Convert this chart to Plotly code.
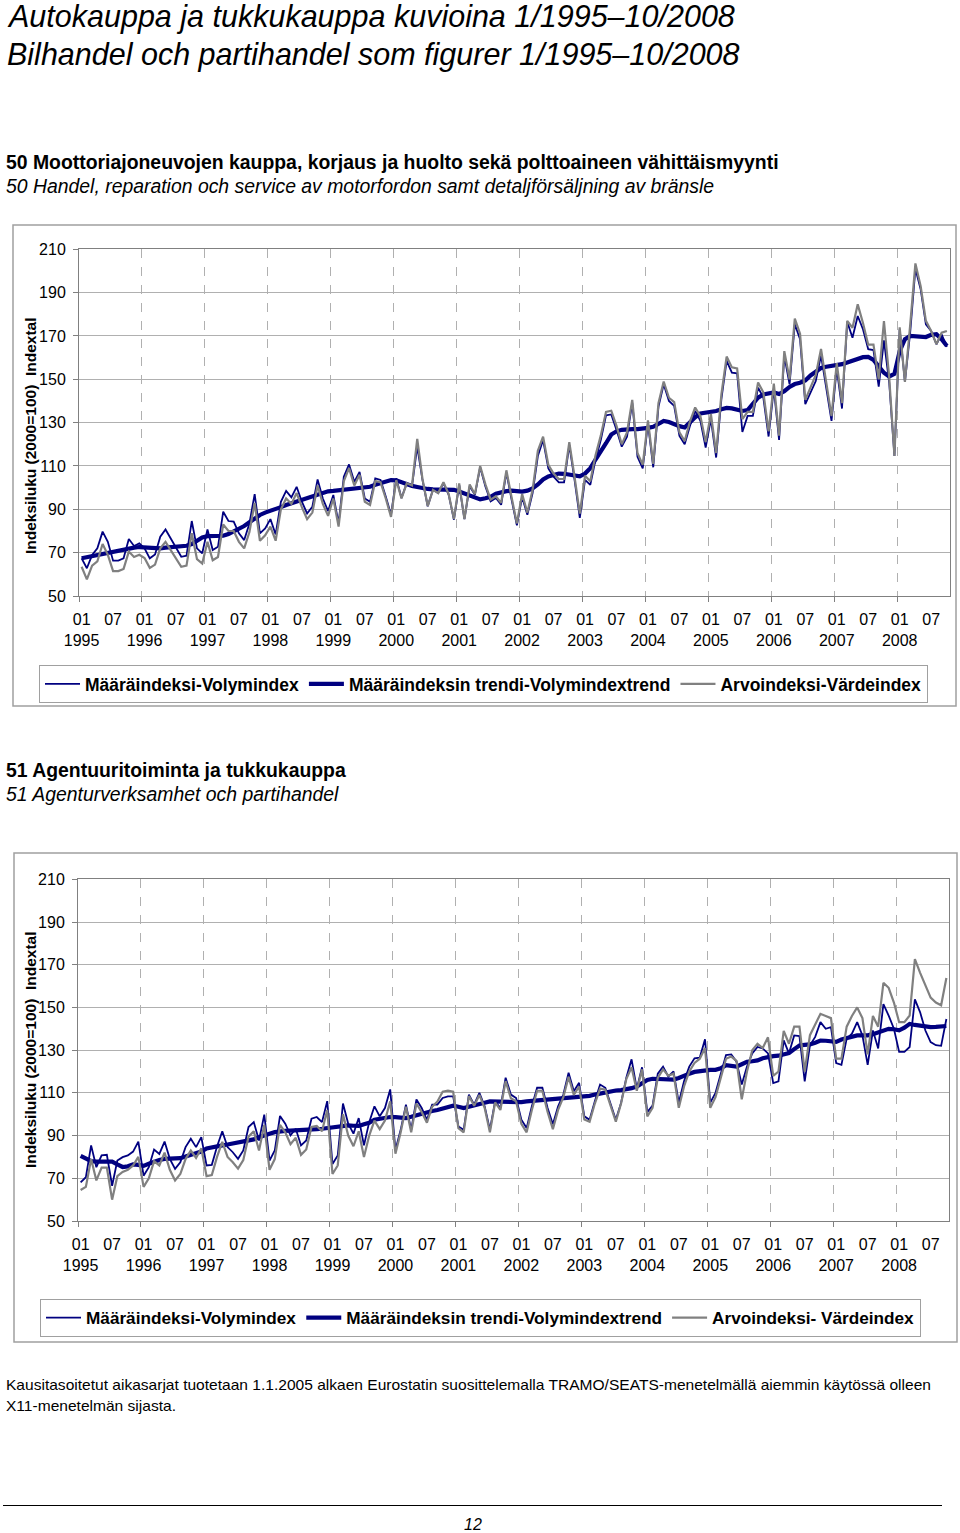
import plotly.graph_objects as go

# ---------------- DATA ----------------
years = list(range(1995, 2009))
months_count = 166  # 1/1995 .. 10/2008

# Panel 50: volume index (monthly)
vol50 = [67.4, 62.8, 68.9, 72.0, 79.7, 75.0, 66.3, 66.3, 67.4, 76.3, 73.1, 74.3,
         72.0, 67.4, 69.2, 77.4, 80.7, 76.6, 72.0, 68.1, 68.6, 84.6, 72.0, 69.7,
         80.7, 71.2, 72.7, 88.9, 84.6, 84.3, 78.9, 75.8, 83.5, 97.0, 78.9, 81.2,
         85.5, 78.4, 93.5, 98.5, 95.5, 100.4, 93.5, 88.1, 91.2, 103.8, 95.0, 89.2,
         96.6, 83.5, 105.0, 110.7, 102.7, 107.3, 95.0, 93.5, 104.3, 103.6, 95.9, 87.5,
         104.3, 95.2, 102.1, 100.6, 119.0, 103.6, 91.4, 99.0, 97.5, 102.1, 96.7, 85.2,
         101.3, 85.5, 100.6, 96.7, 109.4, 100.6, 93.7, 95.2, 92.1, 106.9, 94.4, 82.6,
         95.6, 87.5, 97.5, 114.6, 122.0, 108.9, 105.1, 102.4, 102.4, 119.6, 103.6, 86.0,
         103.6, 101.3, 112.8, 122.0, 133.4, 133.8, 126.6, 118.9, 123.5, 139.1, 114.3, 108.9,
         129.6, 109.4, 137.3, 147.7, 140.0, 137.7, 123.9, 120.0, 128.5, 135.4, 130.8, 118.5,
         131.6, 113.9, 140.8, 158.5, 153.1, 152.8, 125.7, 133.1, 133.1, 146.2, 141.6, 123.6,
         145.7, 122.0, 160.8, 147.7, 175.4, 168.5, 138.5, 143.9, 149.2, 161.1, 145.4, 130.8,
         154.9, 136.5, 176.5, 169.2, 179.2, 173.1, 163.9, 163.5, 146.6, 168.0, 148.5, 114.6,
         173.1, 148.8, 171.5, 201.0, 191.5, 175.4, 172.3, 166.2, 170.8, 165.0]

# Panel 50: volume index trend
trend50 = [67.4, 67.9, 68.4, 69.0, 69.6, 70.2, 70.6, 71.0, 71.4, 71.8, 72.3, 72.6,
           72.4, 72.1, 72.0, 72.0, 72.3, 72.6, 72.8, 73.0, 73.2, 74.0, 75.5, 77.0,
           77.6, 77.6, 77.5, 77.8, 78.6, 79.8, 81.0, 82.3, 84.0, 86.0, 87.4, 88.5,
           89.2, 90.0, 91.0, 92.0, 92.8, 93.4, 94.2, 95.0, 95.8, 96.8, 97.8, 98.3,
           98.5, 98.7, 99.0, 99.2, 99.4, 99.7, 100.0, 100.4, 101.3, 102.0, 102.8, 103.5,
           103.4, 102.4, 101.5, 100.8, 100.3, 99.7, 99.4, 99.2, 99.1, 99.0, 99.0, 99.0,
           98.2, 97.3, 96.2, 95.0, 94.6, 95.1, 95.8, 97.2, 98.0, 98.4, 98.6, 98.4,
           98.2, 98.6, 99.6, 101.5, 103.8, 105.2, 106.0, 106.5, 106.4, 105.9, 105.6, 105.2,
           106.5, 109.0, 113.0, 116.5, 120.5, 124.5, 126.0, 126.7, 127.0, 127.0, 127.0, 127.2,
           127.6, 128.1, 129.5, 130.8, 130.3, 129.2, 128.4, 127.8, 130.5, 132.5, 134.2, 134.6,
           134.6, 135.4, 136.2, 136.8, 136.6, 135.8, 135.4, 135.8, 139.0, 141.5, 143.0, 143.6,
           143.9, 143.2, 144.5, 146.5, 147.8, 148.4, 149.5, 151.8, 153.8, 155.2, 155.8, 156.2,
           156.5, 157.0, 157.8, 158.5, 159.4, 160.2, 160.3, 159.0, 156.0, 153.0, 151.3, 152.5,
           163.0, 168.5, 170.0, 169.8, 169.7, 169.5, 170.5, 170.8, 168.5, 165.4]

# Panel 50: value index
val50 = [63.5, 57.7, 64.0, 66.0, 74.0, 69.0, 61.5, 61.5, 62.5, 70.5, 68.0, 69.0,
         67.5, 63.0, 64.5, 72.0, 75.0, 71.0, 67.0, 63.5, 64.0, 79.0, 67.0, 65.0,
         75.0, 66.5, 68.0, 83.0, 80.0, 80.0, 75.0, 72.0, 79.5, 93.0, 75.5, 78.0,
         82.0, 75.5, 90.0, 95.0, 92.5, 97.5, 91.0, 85.5, 88.5, 101.0, 92.5, 87.0,
         95.0, 82.0, 103.0, 109.0, 101.0, 106.0, 93.5, 92.0, 103.0, 102.5, 95.0, 86.5,
         103.5, 95.0, 102.0, 101.0, 122.5, 104.0, 91.5, 99.0, 97.5, 102.5, 97.0, 85.5,
         102.0, 85.5, 101.5, 97.0, 110.0, 101.5, 94.5, 96.0, 93.0, 108.0, 95.5, 83.5,
         97.0, 88.5, 99.0, 117.0, 123.5, 110.5, 106.5, 104.0, 104.0, 121.0, 105.0, 88.0,
         105.5, 103.0, 115.0, 124.0, 135.0, 135.5, 128.5, 120.0, 125.5, 140.5, 116.0, 110.5,
         131.0, 111.0, 139.0, 149.0, 141.5, 139.5, 125.5, 121.5, 130.5, 137.0, 133.0, 121.0,
         134.0, 116.0, 143.0, 160.5, 155.5, 155.0, 131.6, 135.0, 135.0, 148.5, 144.0, 126.0,
         148.0, 124.0, 163.0, 150.0, 178.0, 171.0, 140.5, 146.0, 152.0, 164.0, 148.0, 133.0,
         157.5, 139.0, 177.0, 173.8, 184.6, 176.0, 166.0, 166.0, 150.0, 176.9, 151.0, 114.6,
         174.0, 148.8, 175.0, 203.5, 193.0, 177.0, 172.3, 166.2, 171.5, 172.3]

# Panel 51: volume index
vol51 = [68.1, 70.5, 85.4, 75.2, 80.7, 81.0, 66.5, 78.3, 79.9, 80.7, 82.5, 87.2,
         71.2, 75.2, 83.5, 81.4, 87.2, 79.1, 74.4, 77.5, 84.6, 88.5, 84.6, 89.3,
         76.0, 76.3, 84.9, 92.0, 84.6, 82.2, 79.1, 83.0, 94.0, 96.3, 87.7, 99.8,
         78.3, 83.0, 99.2, 95.6, 90.1, 93.2, 85.4, 87.7, 97.9, 98.7, 96.3, 106.1,
         76.7, 80.7, 105.0, 95.6, 90.9, 98.2, 85.4, 96.3, 103.7, 99.0, 102.9, 111.6,
         83.2, 92.7, 104.5, 92.7, 106.9, 102.9, 97.4, 104.5, 104.5, 107.6, 108.4, 108.4,
         94.3, 92.7, 109.2, 104.5, 110.0, 103.7, 92.7, 106.1, 102.9, 117.1, 109.2, 107.6,
         97.4, 93.5, 103.7, 112.4, 112.4, 102.9, 95.3, 103.7, 109.2, 119.4, 110.8, 114.7,
         99.0, 97.4, 106.1, 113.9, 112.4, 105.3, 97.4, 105.3, 117.1, 125.7, 112.0, 122.0,
         101.0, 104.0, 119.0, 122.3, 117.7, 120.0, 105.4, 115.4, 122.3, 126.2, 126.5, 135.1,
         105.4, 110.0, 118.5, 127.7, 128.0, 124.6, 113.9, 122.3, 128.5, 131.5, 130.8, 128.5,
         114.6, 115.4, 134.6, 128.5, 136.9, 136.6, 115.4, 132.3, 136.2, 143.1, 140.0, 140.8,
         123.9, 123.1, 135.4, 137.7, 143.1, 136.9, 123.1, 139.2, 130.8, 151.5, 146.2, 140.0,
         129.2, 129.2, 131.5, 153.8, 147.7, 139.2, 133.8, 132.3, 132.0, 144.6]

# Panel 51: volume index trend
trend51 = [80.5, 79.0, 78.0, 77.8, 77.8, 77.8, 77.8, 76.5, 75.3, 75.6, 76.5, 76.3,
           75.8, 76.8, 77.8, 78.6, 79.1, 79.3, 79.4, 79.4, 80.2, 81.0, 81.4, 82.5,
           84.0, 84.6, 85.0, 85.4, 85.8, 86.2, 86.6, 87.2, 87.6, 88.2, 89.2, 90.2,
           90.9, 91.6, 92.0, 92.2, 92.3, 92.4, 92.4, 92.4, 92.6, 93.0, 93.2, 93.5,
           93.8, 94.1, 94.5, 94.8, 94.6, 94.5, 95.3, 96.0, 97.4, 97.9, 98.4, 98.7,
           98.6, 98.4, 98.2, 98.8, 99.6, 100.4, 101.0, 101.5, 102.0, 102.5, 103.3, 104.0,
           103.5, 102.9, 103.5, 104.3, 104.8, 105.4, 106.0, 105.9, 105.7, 105.6, 105.6, 105.6,
           105.7, 106.0, 106.2, 106.3, 106.5, 106.7, 107.0, 107.2, 107.4, 107.5, 107.8, 108.0,
           108.2, 108.6, 109.2, 109.8, 110.4, 110.9, 111.1, 111.3, 111.6, 112.2, 113.0, 114.5,
           116.0, 116.6, 116.5, 116.2, 116.2, 116.2, 117.0, 118.2, 119.0, 119.8, 120.3, 120.7,
           120.8, 120.8, 121.5, 123.0, 122.6, 122.3, 123.4, 124.5, 124.8, 125.2, 126.2, 126.9,
           127.2, 127.4, 128.0, 128.6, 130.5, 132.2, 132.5, 132.7, 133.5, 134.5, 134.4, 134.0,
           133.9, 135.0, 135.8, 136.5, 136.9, 136.9, 136.9, 137.5, 138.2, 139.0, 140.0, 139.8,
           139.3, 140.5, 142.3, 141.8, 141.3, 141.0, 140.8, 140.9, 141.2, 141.3]

# Panel 51: value index
val51 = [64.5, 66.0, 79.0, 69.0, 75.0, 75.0, 60.0, 71.0, 73.0, 74.0, 76.0, 80.0,
         66.0, 70.0, 78.0, 76.0, 82.0, 74.0, 69.0, 72.0, 79.0, 83.0, 79.5, 84.0,
         71.0, 71.5, 80.0, 87.0, 80.0, 77.5, 74.5, 78.5, 89.5, 92.0, 83.0, 95.0,
         74.0, 79.0, 95.0, 91.5, 86.0, 89.0, 81.0, 83.5, 94.0, 94.5, 92.0, 102.0,
         72.0, 76.0, 100.0, 90.0, 85.0, 92.0, 80.0, 90.0, 97.0, 93.0, 97.0, 106.0,
         81.5, 91.5, 103.5, 91.5, 105.0, 101.0, 96.0, 103.5, 106.0, 110.5, 111.0, 110.5,
         93.5, 91.5, 108.5, 104.0, 109.0, 103.0, 91.5, 105.5, 102.0, 115.5, 107.5, 106.0,
         95.5, 91.5, 102.0, 111.0, 111.0, 101.0, 93.0, 102.0, 108.0, 117.5, 109.0, 113.0,
         97.5, 96.5, 105.0, 112.0, 111.5, 104.5, 96.5, 105.0, 116.5, 122.0, 111.0, 121.0,
         99.0, 103.0, 117.0, 121.0, 118.0, 119.0, 103.0, 113.0, 120.0, 124.0, 126.0, 131.0,
         103.0, 108.0, 117.0, 126.0, 127.0, 125.0, 107.0, 120.0, 130.0, 133.0, 131.0, 136.0,
         118.0, 120.0, 139.0, 133.0, 141.0, 141.0, 120.0, 137.0, 142.0, 147.0, 146.0, 145.0,
         126.0, 126.0, 141.0, 146.0, 150.0, 145.0, 128.0, 146.0, 141.0, 161.5, 159.2, 152.3,
         143.1, 143.1, 146.2, 172.6, 166.2, 160.0, 154.6, 152.3, 151.0, 163.8]

# Tick labels (every 6 months)
tick_idx = list(range(0, months_count, 6))
tick_txt = []
for k in tick_idx:
    if k % 12 == 0:
        tick_txt.append("01<br>%d" % years[k // 12])
    else:
        tick_txt.append("07")

names50 = ["Määräindeksi-Volymindex", "Määräindeksin trendi-Volymindextrend", "Arvoindeksi-Värdeindex"]
names51 = ["Määräindeksi-Volymindex", "Määräindeksin trendi-Volymindextrend", "Arvoindeksi- Värdeindex"]

# ---------------- STYLE / LAYOUT ----------------
W, H = 960, 1533
def fx(px):
    return px / W
def fy(py):
    return 1 - py / H

NAVY = "#000080"
GRAY = "#808080"
GRID = "#b0b0b0"
FONT = "Liberation Sans, Arial, sans-serif"

x = list(range(months_count))

fig = go.Figure()

def add_panel(vol, trend, val, names, xa, ya, leg):
    fig.add_trace(go.Scatter(x=x, y=vol, mode="lines", name=names[0],
                             line=dict(color=NAVY, width=1.8), xaxis=xa, yaxis=ya, legend=leg))
    fig.add_trace(go.Scatter(x=x, y=trend, mode="lines", name=names[1],
                             line=dict(color=NAVY, width=4.2), xaxis=xa, yaxis=ya, legend=leg))
    fig.add_trace(go.Scatter(x=x, y=val, mode="lines", name=names[2],
                             line=dict(color=GRAY, width=2.2), xaxis=xa, yaxis=ya, legend=leg))

add_panel(vol50, trend50, val50, names50, "x", "y", "legend")
add_panel(vol51, trend51, val51, names51, "x2", "y2", "legend2")

def xaxis_cfg(x0, x1, anchor):
    return dict(domain=[fx(x0), fx(x1)], range=[-0.5, months_count - 0.5], anchor=anchor,
                tickmode="array", tickvals=tick_idx, ticktext=tick_txt,
                showgrid=False, zeroline=False, ticks="", ticklabelstandoff=9,
                tickfont=dict(family=FONT, size=16, color="#000"),
                showline=True, linecolor="#808080", linewidth=1, mirror=True,
                automargin=False,
                minor=dict(tickmode="linear", tick0=11.5, dtick=12, showgrid=True,
                           griddash="dash", gridcolor=GRID, gridwidth=1,
                           ticks="outside", ticklen=5, tickcolor="#808080"),
                fixedrange=True)

def yaxis_cfg(y0, y1, anchor):
    return dict(domain=[fy(y1), fy(y0)], range=[50, 210], anchor=anchor, tickmode="array",
                tickvals=[50, 70, 90, 110, 130, 150, 170, 190, 210],
                showgrid=True, gridcolor=GRID, gridwidth=1, zeroline=False,
                ticks="outside", ticklen=5, tickcolor="#808080", ticklabelstandoff=4,
                tickfont=dict(family=FONT, size=16, color="#000"),
                showline=True, linecolor="#808080", linewidth=1, mirror=True,
                automargin=False, fixedrange=True)

legend_font = dict(family=FONT, size=17.5, color="#000", weight="bold")
legend2_font = dict(family=FONT, size=17.2, color="#000", weight="bold")

fig.update_layout(
    template="none",
    width=W, height=H, autosize=False,
    margin=dict(l=0, r=0, t=0, b=0, pad=0),
    paper_bgcolor="white", plot_bgcolor="white",
    xaxis=xaxis_cfg(79, 949.5, "y"),
    yaxis=yaxis_cfg(249.3, 596, "x"),
    xaxis2=xaxis_cfg(78, 949, "y2"),
    yaxis2=yaxis_cfg(879.3, 1221, "x2"),
    legend=dict(orientation="h", x=fx(39), y=fy(665), xanchor="left", yanchor="top",
                bordercolor="#a0a0a0", borderwidth=1, font=legend_font,
                bgcolor="white", itemwidth=35, traceorder="normal"),
    legend2=dict(orientation="h", x=fx(40), y=fy(1299), xanchor="left", yanchor="top",
                 bordercolor="#a0a0a0", borderwidth=1, font=legend2_font,
                 bgcolor="white", itemwidth=35, traceorder="normal"),
    showlegend=True,
)

shapes = [
    dict(type="rect", xref="paper", yref="paper", x0=fx(13), x1=fx(956), y0=fy(706), y1=fy(225),
         line=dict(color="#a0a0a0", width=1.5), layer="below"),
    dict(type="rect", xref="paper", yref="paper", x0=fx(14), x1=fx(957), y0=fy(1342), y1=fy(853),
         line=dict(color="#a0a0a0", width=1.5), layer="below"),
    dict(type="line", xref="paper", yref="paper", x0=fx(3), x1=fx(942), y0=fy(1505.5), y1=fy(1505.5),
         line=dict(color="#000", width=1)),
]
fig.update_layout(shapes=shapes)

def ann(text, px, py, size, family=FONT, xanchor="left", angle=0, color="#000"):
    return dict(text=text, x=fx(px), y=fy(py), xref="paper", yref="paper",
                xanchor=xanchor, yanchor="middle", showarrow=False, textangle=angle,
                borderpad=0, font=dict(family=family, size=size, color=color))

annotations = [
    ann("<i>Autokauppa ja tukkukauppa kuvioina 1/1995–10/2008</i>", 6, 16, 30.5),
    ann("<i>Bilhandel och partihandel som figurer 1/1995–10/2008</i>", 6, 54, 30.5),
    ann("<b>50 Moottoriajoneuvojen kauppa, korjaus ja huolto sekä polttoaineen vähittäismyynti</b>", 5, 162, 19.4),
    ann("<i>50 Handel, reparation och service av motorfordon samt detaljförsäljning av bränsle</i>", 5, 186, 19.4),
    ann("<b>51 Agentuuritoiminta ja tukkukauppa</b>", 5, 770, 19.4),
    ann("<i>51 Agenturverksamhet och partihandel</i>", 5, 794, 19.4),
    ann("<b>Indeksiluku (2000=100)  Indextal</b>", 30, 436, 15.5, FONT, xanchor="center", angle=-90),
    ann("<b>Indeksiluku (2000=100)  Indextal</b>", 30, 1050, 15.5, FONT, xanchor="center", angle=-90),
    ann("Kausitasoitetut aikasarjat tuotetaan 1.1.2005 alkaen Eurostatin suosittelemalla TRAMO/SEATS-menetelmällä aiemmin käytössä olleen",
        5, 1384, 15.55),
    ann("X11-menetelmän sijasta.", 5, 1405, 15.55),
    ann("<i>12</i>", 473, 1524, 16, FONT, xanchor="center"),
]
fig.update_layout(annotations=annotations)

fig.write_html("out.html", include_plotlyjs=True,
               config={"displayModeBar": False, "responsive": False},
               post_script="document.body.style.margin='0';document.body.style.overflow='hidden';")
